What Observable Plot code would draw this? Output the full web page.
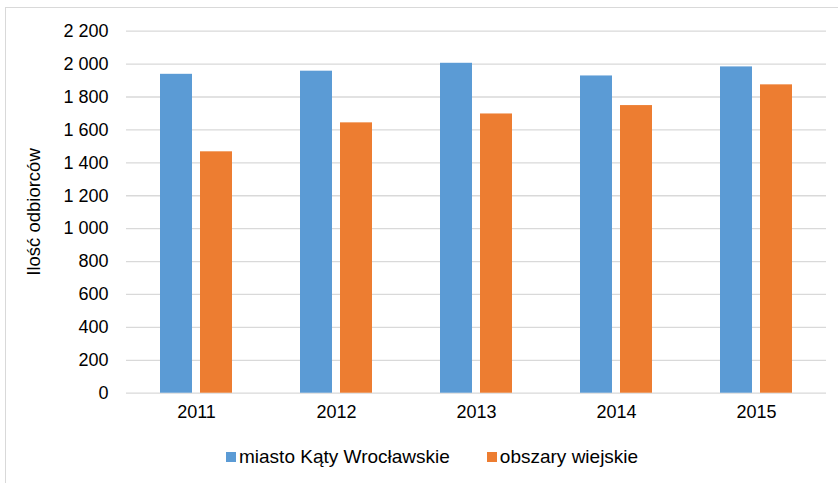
<!DOCTYPE html>
<html>
<head>
<meta charset="utf-8">
<script src="https://cdn.jsdelivr.net/npm/d3@7"></script>
<script src="https://cdn.jsdelivr.net/npm/@observablehq/plot@0.6"></script>
<style>
  html, body { margin: 0; padding: 0; background: #fff; }
  #wrap { position: relative; width: 838px; height: 483px; overflow: hidden; font-family: "Liberation Sans", Arial, sans-serif; }
  #frame { position: absolute; left: 5px; top: 7px; width: 860px; height: 500px; border: 1px solid #d9d9d9; box-sizing: border-box; }
  #chart { position: absolute; left: 0; top: 0; }
  #legend { position: absolute; top: 446px; left: 226px; display: flex; gap: 37px; font-size: 19px; color: #000; }
  #legend .item { display: flex; align-items: center; }
  #legend .sw { width: 10px; height: 10px; margin-right: 3px; }
</style>
</head>
<body>
<div id="wrap">
  <div id="frame"></div>
  <div id="chart"></div>
  <div id="legend"></div>
</div>
<script>
const years = ["2011", "2012", "2013", "2014", "2015"];
const seriesNames = ["miasto Kąty Wrocławskie", "obszary wiejskie"];
const miasto = [1938, 1957, 2005, 1928, 1983];
const wiejskie = [1467, 1643, 1697, 1748, 1874];
const colors = ["#5B9BD5", "#ED7D31"];
const yTicks = [0, 200, 400, 600, 800, 1000, 1200, 1400, 1600, 1800, 2000, 2200];

const data = [];
years.forEach((y, i) => {
  data.push({year: y, series: seriesNames[0], value: miasto[i]});
  data.push({year: y, series: seriesNames[1], value: wiejskie[i]});
});

const fmt = d => d3.format(",")(d).replace(/,/g, " ");

const chart = Plot.plot({
  width: 838,
  height: 440,
  marginTop: 30.7,
  marginBottom: 47.3,
  marginLeft: 126,
  marginRight: 11.3,
  style: { fontFamily: "'Liberation Sans', Arial, sans-serif", fontSize: "18px", color: "#000", background: "transparent" },
  fx: { domain: years, padding: 0, label: null },
  x: { domain: seriesNames, paddingInner: 0.2, paddingOuter: 0.85, axis: null },
  y: { domain: [0, 2200], label: null },
  color: { domain: seriesNames, range: colors },
  marks: [
    Plot.ruleY(yTicks, { stroke: "#d9d9d9", strokeWidth: 1.3 }),
    Plot.barY(data, { fx: "year", x: "series", y: "value", fill: "series", inset: 0 }),
    Plot.axisY({ ticks: yTicks, tickFormat: fmt, tickSize: 0, tickPadding: 18, label: null, fontSize: 18 }),
    Plot.axisFx({ anchor: "bottom", tickSize: 0, tickPadding: 12, label: null, fontSize: 18 })
  ]
});
document.getElementById("chart").appendChild(chart);

// y axis title
const svg = d3.select(chart);
svg.append("text")
  .attr("transform", "translate(40,212) rotate(-90)")
  .attr("text-anchor", "middle")
  .attr("font-size", 18.5)
  .attr("fill", "#000")
  .text("Ilość odbiorców");

const legend = document.getElementById("legend");
seriesNames.forEach((s, i) => {
  const item = document.createElement("div");
  item.className = "item";
  const sw = document.createElement("div");
  sw.className = "sw";
  sw.style.background = colors[i];
  const t = document.createElement("span");
  t.textContent = s;
  item.appendChild(sw);
  item.appendChild(t);
  legend.appendChild(item);
});
</script>
</body>
</html>
